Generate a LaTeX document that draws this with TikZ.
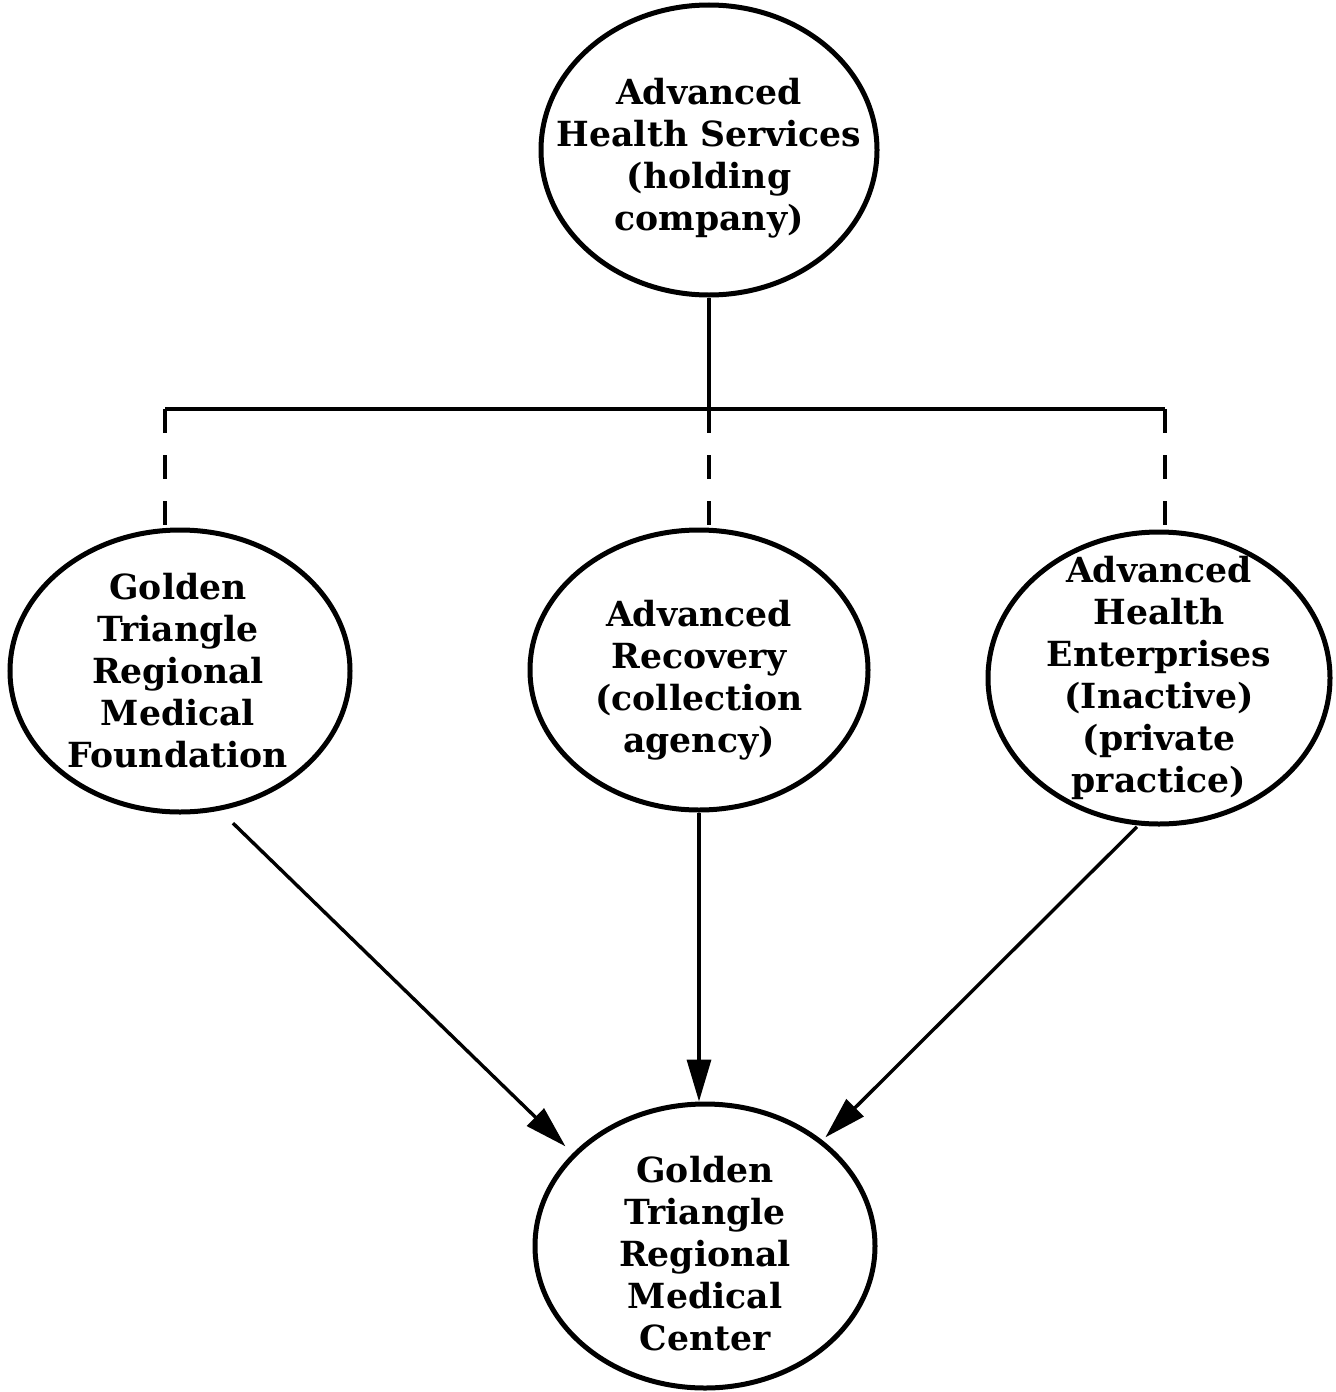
\documentclass[tikz,border=0pt]{standalone}
\usepackage{fontspec}
\setmainfont{DejaVu Serif}
\usetikzlibrary{arrows.meta,shapes.geometric}
\begin{document}
\begin{tikzpicture}[x=0.5pt,y=-0.5pt,
  org/.style={ellipse,draw,line width=2.5pt,inner sep=0pt},
  lbl/.style={inner sep=0pt,align=center,
    font=\bfseries\fontsize{17.3}{21}\selectfont},
  conn/.style={line width=1.6pt},
  dashconn/.style={line width=1.6pt,dash pattern=on 12pt off 11pt},
  arr/.style={line width=1.7pt,-{Triangle[length=21pt,width=12pt]}}]
\useasboundingbox (0,0) rectangle (1335,1392);
\node[org,minimum width=168pt,minimum height=145pt] (top) at (709,150) {};
\node[org,minimum width=170pt,minimum height=141pt] (left) at (180,671) {};
\node[org,minimum width=169pt,minimum height=140pt] (mid) at (699,670) {};
\node[org,minimum width=171pt,minimum height=146pt] (right) at (1159,678) {};
\node[org,minimum width=170pt,minimum height=142pt] (bot) at (705,1246) {};
\node[lbl] (topt) at ([yshift=-4pt]top.center) {Advanced\\Health Services\\(holding\\company)};
\node[lbl] (leftt) at ([xshift=-1pt]left.center) {Golden\\Triangle\\Regional\\Medical\\Foundation};
\node[lbl] (midt) at ([yshift=-5pt]mid.center) {Advanced\\Recovery\\(collection\\agency)};
\node[lbl] (rightt) at (right.center) {Advanced\\Health\\Enterprises\\(Inactive)\\(private\\practice)};
\node[lbl] (bott) at ([yshift=-4pt]bot.center) {Golden\\Triangle\\Regional\\Medical\\Center};
\coordinate (bl) at (165,409);
\coordinate (br) at (1165,409);
\coordinate (bm) at (top.south |- bl);
\draw[conn] (top.south) -- (bm);
\draw[conn] (bl) -- (br);
\draw[dashconn] (bl) -- (bl |- left.north);
\draw[dashconn] (bm) -- (bm |- mid.north);
\draw[dashconn] (br) -- (br |- right.north);
\draw[arr,shorten <=9pt,shorten >=5pt] (left.286.9) -- (bot.145.6);
\draw[arr] (mid.south) -- (mid.south |- bot.north);
\draw[arr,shorten <=1pt,shorten >=2pt] (right.262.6) -- (bot.42.7);
\end{tikzpicture}
\end{document}
